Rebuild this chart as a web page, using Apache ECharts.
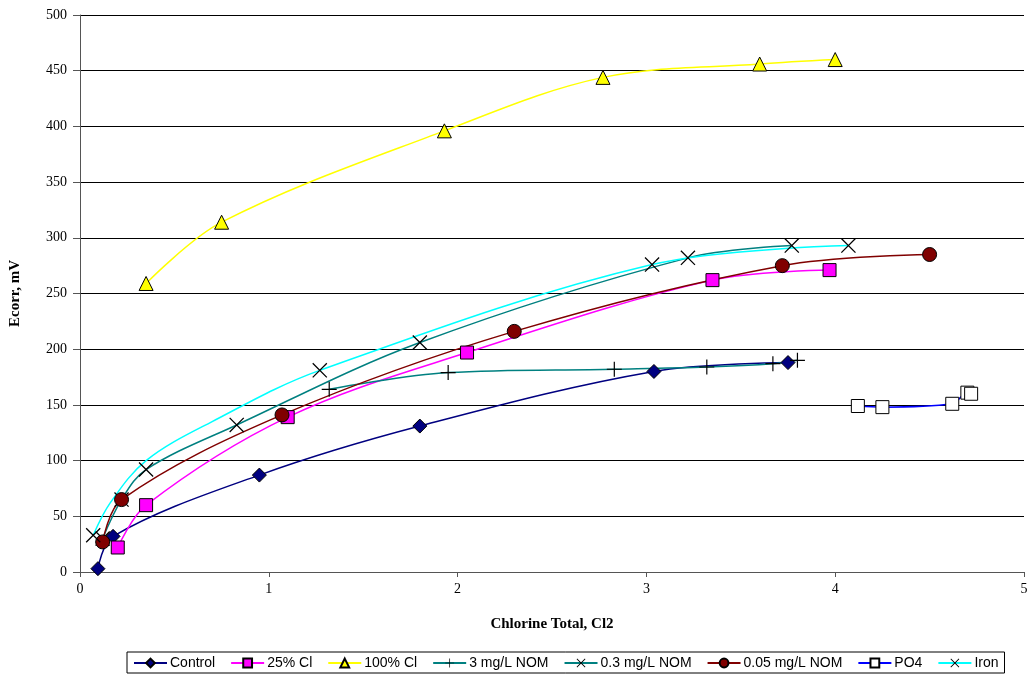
<!DOCTYPE html>
<html><head><meta charset="utf-8">
<script src="https://cdn.jsdelivr.net/npm/echarts@6/dist/echarts.min.js"></script>
<style>html,body{margin:0;padding:0;background:#fff}#c{width:1031px;height:677px}</style>
</head><body><div id="c"></div>
<script>
const seriesNames = ['Control','25% Cl','100% Cl','3 mg/L NOM','0.3 mg/L NOM','0.05 mg/L NOM','PO4','Iron'];
const control = [[0.095,3],[0.175,32],[0.95,87],[1.8,131],[3.04,180],[3.75,188]];
const cl25 = [[0.2,22],[0.35,60],[1.1,139],[2.05,197],[3.35,262],[3.97,271]];
const cl100 = [[0.35,259],[0.75,314],[1.93,396],[2.77,444],[3.6,456],[4.0,460]];
const nom3 = [[1.32,164],[1.95,179],[2.83,182],[3.32,184],[3.67,187],[3.8,190]];
const nom03 = [[0.12,30],[0.22,65],[0.35,92],[0.83,132],[1.8,206],[3.22,282],[3.77,293]];
const nom005 = [[0.12,27],[0.22,65],[1.07,141],[2.3,216],[3.72,275],[4.5,285]];
const po4 = [[4.12,149],[4.25,148],[4.62,151],[4.7,161],[4.72,160]];
const iron = [[0.07,33],[1.27,181],[3.03,276],[4.07,293]];
// points read along the Iron curve where no marker is drawn
const ironCurve = [[0.16,62],[0.35,100],[0.7,135]];
const xTicks = [0,1,2,3,4,5];
const yTicks = [0,50,100,150,200,250,300,350,400,450,500];

const PLUS = 'path://M0,4.6H10V5.4H0Z M4.6,0H5.4V10H4.6Z';
const CROSS = 'path://M0,0.6L0.6,0L10,9.4L9.4,10Z M9.4,0L10,0.6L0.6,10L0,9.4Z';

function mk(name, data, lineColor, symbol, size, fill, border, smooth){
  return {
    name, type:'line', data, smooth: smooth===undefined?0.35:smooth,
    symbol, symbolSize:size, showAllSymbol:true,
    lineStyle:{color:lineColor,width:1.5},
    itemStyle:{color:fill,borderColor:border,borderWidth:border?1:0},
    emphasis:{disabled:true}, z: 3
  };
}
const ironData = iron.map(p=>({value:p}))
  .concat(ironCurve.map(p=>({value:p,symbol:'none'})))
  .sort((a,b)=>a.value[0]-b.value[0]);

const chart = echarts.init(document.getElementById('c'));
chart.setOption({
  animation:false,
  backgroundColor:'#fff',
  grid:{left:80,right:7,top:15,bottom:105},
  xAxis:{type:'value',min:0,max:5,interval:1,
    name:'Chlorine Total, Cl2',nameLocation:'middle',nameGap:45,
    nameTextStyle:{fontFamily:'Liberation Serif',fontWeight:'bold',fontSize:15,color:'#000'},
    axisLine:{lineStyle:{color:'#555',width:1}},
    axisTick:{show:true,length:5,lineStyle:{color:'#555'}},
    axisLabel:{fontFamily:'Liberation Serif',fontSize:14,color:'#000',margin:10,
      formatter:v=>xTicks.includes(v)?String(v):''},
    splitLine:{show:false}},
  yAxis:{type:'value',min:0,max:500,interval:50,
    name:'Ecorr, mV',nameLocation:'middle',nameGap:57,nameRotate:90,
    nameTextStyle:{fontFamily:'Liberation Serif',fontWeight:'bold',fontSize:15,color:'#000'},
    axisLine:{show:true,lineStyle:{color:'#555',width:1}},
    axisTick:{show:true,length:7,lineStyle:{color:'#555'}},
    axisLabel:{fontFamily:'Liberation Serif',fontSize:14,color:'#000',margin:13,
      formatter:v=>yTicks.includes(v)?String(v):''},
    splitLine:{show:true,lineStyle:{color:'#000',width:1}}},
  legend:{
    data:seriesNames, bottom:4, left:127,
    padding:[4,6,3,6], itemGap:15, itemWidth:33, itemHeight:11,
    borderColor:'#000', borderWidth:1, borderRadius:0,
    textStyle:{fontFamily:'Liberation Sans',fontSize:14,color:'#000',padding:[0,0,0,-2]}
  },
  series:[
    mk('Control',control,'#000080','diamond',14,'#000080','#000'),
    mk('25% Cl',cl25,'#FF00FF','rect',13,'#FF00FF','#000'),
    mk('100% Cl',cl100,'#FFFF00','triangle',14,'#FFFF00','#000'),
    mk('3 mg/L NOM',nom3,'#008080',PLUS,15,'#000',0),
    mk('0.3 mg/L NOM',nom03,'#008080',CROSS,15,'#000',0),
    mk('0.05 mg/L NOM',nom005,'#800000','circle',14,'#800000','#000'),
    mk('PO4',po4,'#0000FF','rect',13,'#fff','#000'),
    mk('Iron',ironData,'#00FFFF',CROSS,15,'#000',0)
  ]
});
</script></body></html>
